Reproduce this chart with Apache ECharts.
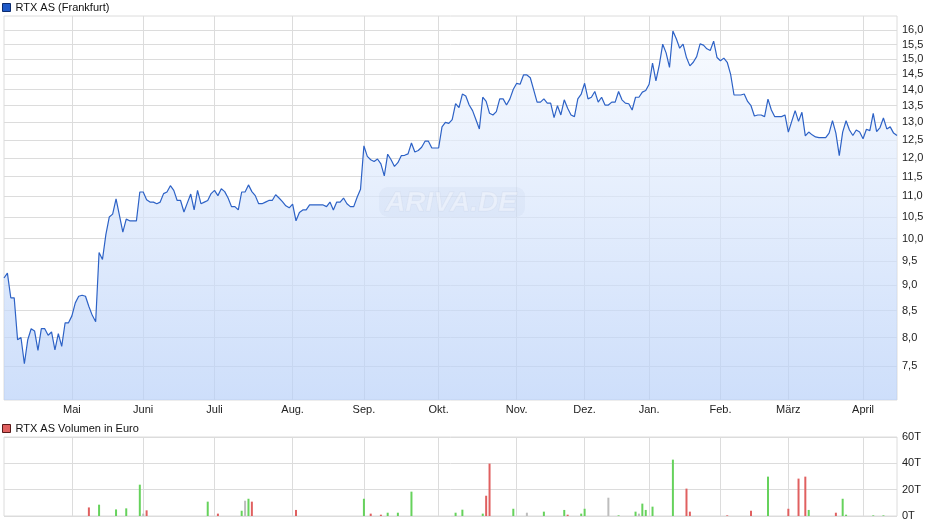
<!DOCTYPE html>
<html><head><meta charset="utf-8">
<script src="https://cdn.jsdelivr.net/npm/echarts@6/dist/echarts.min.js"></script>
<style>html,body{margin:0;padding:0;background:#fff}#c{width:940px;height:526px}</style>
</head><body><div id="c"></div>
<script>
// Trading calendar (Frankfurt): weekdays minus exchange holidays
const firstDay = '2014-04-01';
const lastDay = '2015-04-17';
const holidays = ['2014-04-18','2014-04-21','2014-05-01','2014-12-24','2014-12-25','2014-12-26','2014-12-31','2015-01-01','2015-04-03','2015-04-06'];
const monthNames = ['Jan.','Feb.','März','April','Mai','Juni','Juli','Aug.','Sep.','Okt.','Nov.','Dez.'];

// Closing prices in EUR, one per trading day
const price = [
9.15,9.25,8.75,8.75,7.96,8.00,7.54,7.96,8.16,8.12,
7.77,8.16,8.16,8.04,8.10,7.78,8.07,7.84,8.27,8.27,
8.40,8.65,8.78,8.80,8.78,8.58,8.41,8.29,9.69,9.54,
10.09,10.50,10.57,10.94,10.54,10.15,10.45,10.41,10.41,10.41,
11.11,11.11,10.92,10.86,10.86,10.82,10.86,11.07,11.11,11.27,
11.15,10.90,10.90,10.62,10.84,11.06,10.67,11.15,10.82,10.86,
10.90,11.07,11.15,11.02,11.19,11.12,10.96,10.75,10.75,10.67,
11.11,11.11,11.29,11.12,11.02,10.82,10.82,10.86,10.90,10.90,
11.04,10.96,10.87,10.77,10.72,10.81,10.41,10.61,10.67,10.67,
10.79,10.79,10.79,10.79,10.79,10.75,10.86,10.67,10.86,10.86,
10.96,10.82,10.75,10.75,10.98,11.18,12.33,12.04,11.95,11.90,
11.97,11.84,11.52,12.10,11.95,11.77,11.87,12.06,12.07,12.11,
12.41,12.16,12.20,12.29,12.46,12.46,12.27,12.27,12.27,12.87,
13.00,12.97,13.08,13.56,13.44,13.86,13.80,13.52,13.35,13.08,
12.81,13.76,13.63,13.27,13.22,13.32,13.71,13.71,13.52,13.71,
14.01,14.20,14.17,14.47,14.47,14.38,13.99,13.61,13.61,13.71,
13.58,13.58,13.14,13.50,13.22,13.68,13.42,13.22,13.17,13.71,
13.86,14.20,13.71,13.76,13.94,13.61,13.76,13.52,13.52,13.61,
13.61,13.94,13.68,13.58,13.56,13.37,13.76,13.76,13.92,13.97,
14.17,14.86,14.28,14.80,15.51,15.21,14.72,15.98,15.70,15.37,
15.51,15.05,14.77,14.89,15.08,15.52,15.48,15.35,15.29,15.62,
15.05,14.94,15.03,14.89,14.49,13.83,13.83,13.83,13.86,13.63,
13.50,13.19,13.22,13.22,13.17,13.70,13.37,13.17,13.17,13.17,
13.22,12.72,13.03,13.35,13.03,13.30,12.61,12.72,12.64,12.58,
12.56,12.56,12.56,12.69,13.05,12.69,12.06,12.72,13.05,12.78,
12.62,12.78,12.72,12.53,12.80,12.76,13.27,12.73,12.85,13.13,
12.81,12.87,12.69,12.62
];

// Volume (thousand EUR) on the days it traded; index into the trading-day list
const volIndex = [25,28,33,36,40,41,42,60,63,70,71,72,73,86,106,108,111,113,116,120,133,135,
  141,142,143,150,154,159,165,166,170,171,178,181,186,187,188,189,191,197,201,202,213,220,225,231,234,236,237,245,247,248,256,259];
const volValue = [6.5,8.6,5.0,5.8,23.8,1.8,4.3,10.9,1.8,4.0,11.6,13.1,10.9,4.6,13.1,1.8,1.0,2.5,2.5,18.5,2.5,4.8,
  1.8,15.4,39.8,5.5,2.5,3.3,4.6,1.0,1.8,5.5,13.9,0.5,3.3,1.8,9.4,4.6,7.1,42.8,20.8,3.3,0.5,4.0,29.9,5.5,28.4,29.9,4.6,2.5,13.1,1.0,0.5,0.5];
const volDir = ['d','u','u','u','u','f','d','u','d','u','f','u','d','d','u','d','d','u','u','u','u','u',
  'u','d','d','u','f','u','u','d','u','u','f','u','u','f','u','u','u','u','d','d','d','d','u','d','d','d','u','d','u','u','u','u'];

const priceTicks = [7.5,8.0,8.5,9.0,9.5,10.0,10.5,11.0,11.5,12.0,12.5,13.0,13.5,14.0,14.5,15.0,15.5,16.0];

// ---- build trading-day categories
function tradingDays(){
  const out = [];
  const end = new Date(lastDay + 'T00:00:00Z').getTime();
  for (let t = new Date(firstDay + 'T00:00:00Z').getTime(); t <= end; t += 86400000) {
    const d = new Date(t); const wd = d.getUTCDay(); const s = d.toISOString().slice(0,10);
    if (wd !== 0 && wd !== 6 && holidays.indexOf(s) < 0) out.push(s);
  }
  return out;
}
const dates = tradingDays().slice(0, price.length);
const isMonthStart = (i) => i > 0 && dates[i].slice(5,7) !== dates[i-1].slice(5,7);
const monthLabel = (s) => monthNames[parseInt(s.slice(5,7),10)-1];

const dirColor = {u:'#66d25c', d:'#e06060', f:'#bdbdbd'};
const volData = dates.map(() => null);
volIndex.forEach((idx, k) => { volData[idx] = {value: volValue[k], itemStyle:{color: dirColor[volDir[k]]}}; });

const FONT = 'Liberation Sans, Arial, sans-serif';
const GRID = '#dcdcdc';

const chart = echarts.init(document.getElementById('c'), null, {renderer:'canvas'});
chart.setOption({
  animation: false,
  textStyle: {fontFamily: FONT},
  legend: [
    {data:[{name:'RTX AS (Frankfurt)', itemStyle:{color:'#1f5ac8', borderColor:'#0d2c6e', borderWidth:1}}],
     left: 0, top: 1, icon:'rect', itemWidth:8, itemHeight:8, itemGap:4, padding:[1,2],
     textStyle:{fontSize:11, color:'#111', fontFamily:FONT}, selectedMode:false},
    {data:[{name:'RTX AS Volumen in Euro', itemStyle:{color:'#e06060', borderColor:'#5a1a1a', borderWidth:1}}],
     left: 0, top: 422, icon:'rect', itemWidth:8, itemHeight:8, itemGap:4, padding:[1,2],
     textStyle:{fontSize:11, color:'#111', fontFamily:FONT}, selectedMode:false}
  ],
  grid: [
    {left:4, right:43, top:16, bottom:126, show:true, borderColor:GRID, borderWidth:1, backgroundColor:'transparent'},
    {left:4, right:43, top:437, bottom:10, show:true, borderColor:GRID, borderWidth:1, backgroundColor:'transparent'}
  ],
  xAxis: [
    {type:'category', gridIndex:0, data:dates, boundaryGap:false,
     axisLine:{show:false}, axisTick:{show:false},
     axisLabel:{interval:(i)=>isMonthStart(i), formatter:(v)=>monthLabel(v), fontSize:11, color:'#222', margin:4, fontFamily:FONT},
     splitLine:{show:true, interval:(i)=>isMonthStart(i), lineStyle:{color:GRID, width:1}}},
    {type:'category', gridIndex:1, data:dates, boundaryGap:false,
     axisLine:{show:false}, axisTick:{show:false}, axisLabel:{show:false},
     splitLine:{show:true, interval:(i)=>isMonthStart(i), lineStyle:{color:GRID, width:1}}}
  ],
  yAxis: [
    {type:'log', logBase:10, gridIndex:0, position:'right', min:6.947, max:16.53,
     axisLine:{show:false}, axisTick:{show:false, customValues:priceTicks},
     axisLabel:{customValues:priceTicks, fontSize:11, color:'#222', margin:5, fontFamily:FONT,
       formatter:(v)=>Number(v).toFixed(1).replace('.', ',')},
     splitLine:{show:true, lineStyle:{color:GRID, width:1}}},
    {type:'value', gridIndex:1, position:'right', min:0, max:60, interval:20,
     axisLine:{show:false}, axisTick:{show:false},
     axisLabel:{fontSize:11, color:'#222', margin:5, fontFamily:FONT, formatter:(v)=>v+'T'},
     splitLine:{show:true, lineStyle:{color:GRID, width:1}}}
  ],
  graphic: [
    {type:'rect', z:5, silent:true, shape:{x:379, y:187, width:146, height:30, r:9},
     style:{fill:'rgba(180,194,220,0.14)'}},
    {type:'text', z:6, silent:true, x:451, y:203,
     style:{text:'ARIVA.DE', font:'italic bold 28px Liberation Sans, Arial', fill:'rgba(255,255,255,0.35)',
            stroke:'rgba(170,185,210,0.18)', lineWidth:1, align:'center', verticalAlign:'middle'}}
  ],
  series: [
    {name:'RTX AS (Frankfurt)', type:'line', xAxisIndex:0, yAxisIndex:0, data:price,
     showSymbol:false, symbol:'none', smooth:false,
     lineStyle:{color:'#2d62c6', width:1.2},
     itemStyle:{color:'#1f5ac8'},
     areaStyle:{origin:'start', color:new echarts.graphic.LinearGradient(0,0,0,1,[{offset:0,color:'rgba(244,248,254,1)'},{offset:1,color:'rgba(184,208,248,1)'}])}},
    {name:'RTX AS Volumen in Euro', type:'bar', xAxisIndex:1, yAxisIndex:1, data:volData,
     barWidth:2, itemStyle:{color:'#e06060'}}
  ]
});
</script></body></html>
